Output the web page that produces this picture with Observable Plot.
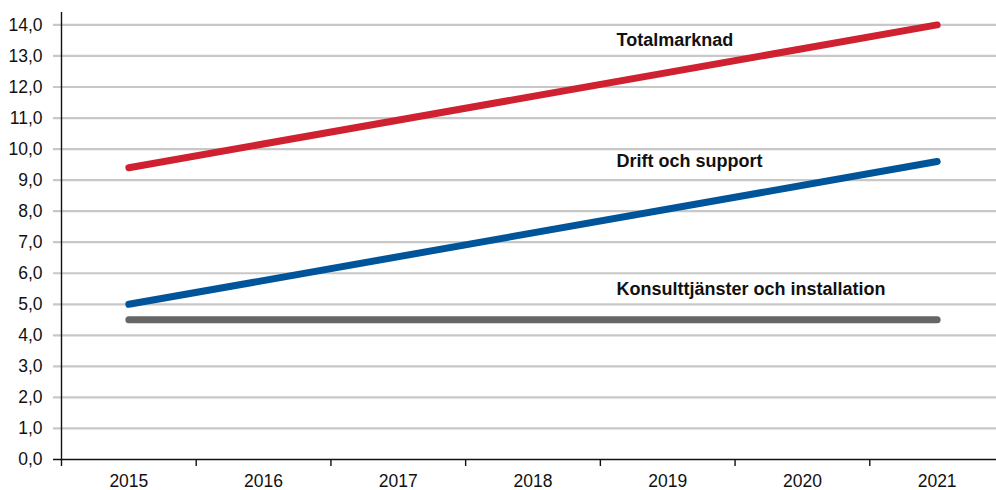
<!DOCTYPE html>
<html>
<head>
<meta charset="utf-8">
<script src="https://cdn.jsdelivr.net/npm/d3@7"></script>
<script src="https://cdn.jsdelivr.net/npm/@observablehq/plot@0.6"></script>
<style>
  html, body { margin: 0; padding: 0; background: #fff; overflow: hidden; }
  #chart svg { display: block; }
</style>
</head>
<body>
<div id="chart"></div>
<script>
// Data
const years = [2015, 2016, 2017, 2018, 2019, 2020, 2021];
const pointYears = [2015, 2021];
const totalmarknad = [9.4, 14.0];
const driftOchSupport = [5.0, 9.6];
const konsulttjanster = [4.5, 4.5];
const seriesNames = ["Totalmarknad", "Drift och support", "Konsulttjänster och installation"];
const seriesColors = ["#cf2130", "#00559a", "#666666"];
const yTicks = [0, 1, 2, 3, 4, 5, 6, 7, 8, 9, 10, 11, 12, 13, 14];
const xBoundaries = [2014.5, 2015.5, 2016.5, 2017.5, 2018.5, 2019.5, 2020.5, 2021.5];

const seriesValues = [totalmarknad, driftOchSupport, konsulttjanster];
const rows = seriesNames.flatMap((name, i) =>
  pointYears.map((yr, j) => ({series: name, year: yr, value: seriesValues[i][j]}))
);

const labelRows = seriesNames.map((name, i) => ({series: name, i}));
const labelY = [13.5, 9.6, 5.5];

const font = "'Liberation Sans', Arial, Helvetica, sans-serif";
const fmt = d => d.toFixed(1).replace(".", ",");

const chart = Plot.plot({
  width: 996,
  height: 490,
  marginLeft: 61,
  marginRight: 0,
  marginTop: 12,
  marginBottom: 31,
  style: {fontFamily: font, fontSize: "17.5px", color: "#111", background: "#fff"},
  x: {type: "linear", domain: [2014.5, 2021.5], range: [61, 1004], axis: null},
  y: {domain: [0, 14.4], axis: null},
  color: {domain: seriesNames, range: seriesColors},
  marks: [
    Plot.ruleY(yTicks.filter(d => d > 0), {stroke: "#c8c8c8", strokeWidth: 2.2, insetLeft: -8}),
    Plot.axisY(yTicks, {tickSize: 0, tickPadding: 19, tickFormat: fmt, fontSize: 17.5, fill: "#111", label: null}),
    Plot.ruleY([0], {stroke: "#111", strokeWidth: 1.4, insetLeft: -8}),
    Plot.ruleX([xBoundaries[0]], {stroke: "#111", strokeWidth: 1.4, insetBottom: -7}),
    Plot.axisX(xBoundaries.slice(1), {tickSize: 7, tickFormat: () => "", stroke: "#111", strokeWidth: 1.4, label: null}),
    Plot.axisX(years, {tickSize: 0, tickPadding: 15, tickFormat: d => String(d), fontSize: 17.5, fill: "#111", label: null}),
    Plot.line(rows, {x: "year", y: "value", z: "series", stroke: "series", strokeWidth: 7, strokeLinecap: "round"}),
    Plot.text(labelRows, {
      x: () => 2018.62,
      y: d => labelY[d.i],
      text: "series",
      textAnchor: "start",
      fontWeight: "bold",
      fontSize: 18,
      fill: "#111"
    })
  ]
});
document.getElementById("chart").appendChild(chart);
</script>
</body>
</html>
